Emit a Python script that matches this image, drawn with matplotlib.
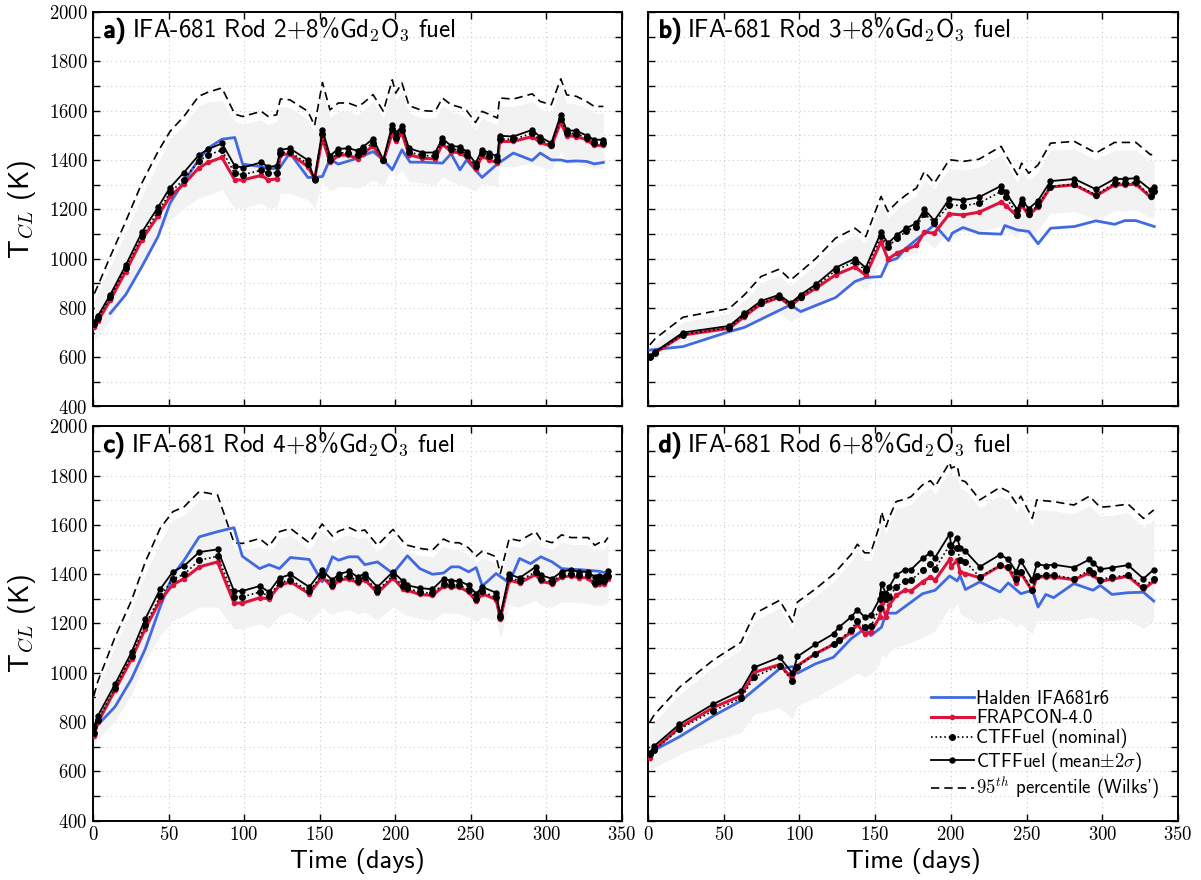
import matplotlib
matplotlib.use("Agg")
import matplotlib.pyplot as plt
from matplotlib.ticker import MultipleLocator, FuncFormatter
import matplotlib.patheffects as pe

plt.rcParams['font.family'] = ['cmss10', 'DejaVu Sans']
plt.rcParams['mathtext.fontset'] = 'cm'
plt.rcParams['axes.unicode_minus'] = False

# ---------------- Rod 2 ----------------
t_a = [0.9, 3.2, 11.4, 21.6, 32.3, 43.0, 51.0, 60.1, 69.9, 76.2, 85.3, 93.8, 99.0, 111.3, 116.0,
       121.5, 124.0, 130.2, 142.2, 146.6, 151.8, 156.8, 162.3, 168.9, 175.0, 178.7, 185.3, 192.1,
       198.0, 200.3, 204.4, 209.1, 218.0, 226.4, 231.2, 236.9, 242.8, 247.2, 253.1, 257.4, 262.2,
       267.6, 269.0, 278.1, 290.6, 295.9, 303.2, 309.5, 313.4, 319.8, 326.6, 331.6, 337.7]
mean_a = [744, 767, 853, 972, 1106, 1208, 1288, 1349, 1419, 1444, 1467, 1376, 1369, 1390, 1372,
          1376, 1441, 1447, 1399, 1319, 1522, 1417, 1445, 1447, 1438, 1453, 1486, 1400, 1543, 1509,
          1536, 1447, 1430, 1430, 1487, 1457, 1453, 1434, 1387, 1441, 1428, 1414, 1498, 1495, 1522,
          1493, 1468, 1583, 1520, 1518, 1499, 1482, 1482]
nom_a = [735, 758, 843, 960, 1090, 1190, 1268, 1320, 1395, 1420, 1440, 1345, 1340, 1358, 1345,
         1348, 1430, 1432, 1385, 1321, 1505, 1400, 1428, 1430, 1418, 1438, 1470, 1398, 1525, 1490,
         1522, 1432, 1418, 1416, 1474, 1444, 1440, 1422, 1374, 1427, 1414, 1400, 1485, 1484, 1508,
         1481, 1460, 1568, 1508, 1506, 1490, 1470, 1470]
frap_a = [724, 745, 832, 947, 1076, 1173, 1252, 1302, 1367, 1390, 1410, 1319, 1319, 1337, 1319,
          1323, 1421, 1425, 1373, 1323, 1488, 1390, 1418, 1421, 1404, 1425, 1457, 1396, 1509, 1475,
          1509, 1421, 1407, 1404, 1464, 1434, 1428, 1411, 1363, 1414, 1401, 1387, 1475, 1475, 1495,
          1471, 1455, 1553, 1498, 1495, 1482, 1459, 1459]
p95_a = [858, 890, 1008, 1150, 1306, 1434, 1516, 1576, 1658, 1675, 1692, 1586, 1576, 1597, 1576,
         1583, 1647, 1644, 1597, 1539, 1714, 1603, 1631, 1631, 1617, 1630, 1665, 1597, 1725, 1671,
         1712, 1620, 1600, 1597, 1651, 1624, 1614, 1600, 1552, 1597, 1585, 1570, 1651, 1647, 1668,
         1637, 1624, 1729, 1664, 1658, 1637, 1617, 1617]
hi_a = [830, 860, 968, 1103, 1252, 1387, 1482, 1543, 1620, 1637, 1641, 1556, 1546, 1563, 1543,
        1556, 1617, 1614, 1563, 1509, 1685, 1573, 1597, 1597, 1583, 1600, 1637, 1570, 1698, 1644,
        1678, 1590, 1570, 1570, 1620, 1597, 1583, 1570, 1522, 1570, 1555, 1543, 1620, 1617, 1637,
        1606, 1593, 1698, 1631, 1627, 1610, 1590, 1590]
lo_a = [668, 685, 751, 859, 981, 1103, 1157, 1204, 1245, 1258, 1279, 1204, 1204, 1225, 1204,
        1211, 1265, 1265, 1238, 1204, 1319, 1272, 1292, 1292, 1285, 1295, 1319, 1292, 1373, 1333,
        1360, 1312, 1306, 1299, 1333, 1312, 1299, 1290, 1272, 1306, 1298, 1292, 1373, 1373, 1387,
        1373, 1360, 1434, 1387, 1383, 1373, 1367, 1367]
th_a = [11.4, 21.6, 32.3, 43.0, 51.0, 60.1, 69.9, 76.2, 85.3, 93.8, 99.0, 111.3, 116.5, 123.4,
        130.2, 142.2, 146.6, 151.8, 156.8, 162.3, 175.0, 185.3, 192.1, 198.0, 204.4, 209.8, 218.0,
        231.2, 236.9, 242.8, 247.2, 257.4, 267.6, 278.1, 290.6, 295.9, 303.2, 309.5, 313.4, 319.8,
        326.6, 331.6, 337.7]
halden_a = [778, 853, 967, 1089, 1225, 1313, 1400, 1448, 1484, 1491, 1383, 1373, 1364, 1367,
            1428, 1329, 1329, 1333, 1403, 1383, 1407, 1434, 1400, 1360, 1441, 1391, 1391,
            1387, 1425, 1360, 1400, 1329, 1384, 1428, 1398, 1428, 1400, 1400, 1394, 1396,
            1394, 1384, 1390]

# ---------------- Rod 3 ----------------
t_b = [1.2, 4.7, 23.1, 53.8, 63.7, 74.6, 86.6, 94.2, 100.8, 111.0, 123.9, 136.7, 143.8, 153.9,
       158.4, 164.5, 170.4, 177.3, 182.5, 189.1, 199.0, 208.0, 218.6, 233.2, 236.3, 243.9, 246.7,
       251.4, 257.6, 265.8, 281.6, 295.8, 308.1, 314.9, 322.2, 331.9, 334.3]
mean_b = [605, 622, 700, 727, 778, 828, 853, 819, 853, 896, 963, 1000, 963, 1107, 1062, 1096,
          1123, 1143, 1200, 1154, 1242, 1237, 1249, 1295, 1268, 1198, 1242, 1202, 1235, 1314,
          1323, 1281, 1323, 1323, 1326, 1279, 1290]
nom_b = [600, 618, 692, 720, 770, 818, 845, 810, 845, 887, 952, 988, 952, 1092, 1048, 1082,
         1110, 1130, 1182, 1145, 1218, 1214, 1225, 1272, 1250, 1177, 1225, 1180, 1218, 1292,
         1302, 1259, 1306, 1306, 1309, 1254, 1272]
frap_b = [600, 618, 690, 717, 765, 816, 842, 808, 842, 880, 934, 967, 932, 1069, 998, 1022,
          1038, 1053, 1107, 1103, 1181, 1177, 1188, 1229, 1215, 1171, 1218, 1175, 1211, 1290,
          1299, 1254, 1299, 1299, 1302, 1249, 1268]
p95_b = [650, 675, 762, 798, 853, 927, 957, 913, 947, 1001, 1083, 1123, 1089, 1252, 1191, 1229,
         1258, 1286, 1353, 1306, 1401, 1394, 1403, 1455, 1420, 1340, 1387, 1346, 1380, 1468,
         1475, 1428, 1471, 1471, 1471, 1421, 1425]
hi_b = [635, 655, 742, 778, 830, 900, 930, 890, 925, 975, 1055, 1095, 1062, 1222, 1165, 1200,
        1230, 1255, 1320, 1280, 1365, 1360, 1370, 1420, 1390, 1310, 1355, 1318, 1350, 1440,
        1445, 1400, 1440, 1440, 1440, 1395, 1400]
lo_b = [585, 600, 663, 690, 717, 765, 778, 744, 771, 812, 859, 907, 873, 1001, 967, 995, 1008,
        1028, 1076, 1042, 1116, 1110, 1110, 1130, 1115, 1083, 1116, 1089, 1116, 1184, 1191,
        1157, 1194, 1194, 1198, 1165, 1171]
th_b = [1.2, 23.1, 53.8, 63.7, 94.0, 100.8, 123.9, 136.7, 143.8, 153.9, 158.4, 164.5, 170.4,
        182.5, 189.1, 198.5, 200.9, 208.0, 218.6, 233.2, 235.6, 243.9, 251.4, 257.6, 265.8,
        281.6, 295.8, 308.1, 314.9, 322.2, 334.3]
halden_b = [629, 643, 704, 721, 812, 785, 842, 907, 923, 927, 988, 1001, 1042, 1103, 1137,
            1073, 1103, 1126, 1103, 1099, 1134, 1116, 1110, 1060, 1123, 1130, 1153, 1139,
            1154, 1154, 1130]

# ---------------- Rod 4 ----------------
t_c = [0.5, 3.2, 14.6, 25.5, 34.6, 44.4, 52.8, 60.3, 70.3, 82.4, 93.3, 98.8, 110.2, 116.5,
       123.4, 130.6, 143.1, 151.6, 158.4, 162.5, 169.3, 175.2, 179.8, 188.2, 198.5, 204.8, 208.0,
       216.2, 224.6, 231.9, 237.1, 242.2, 248.5, 253.5, 257.6, 266.7, 269.5, 275.4, 282.2, 292.9,
       296.3, 303.8, 310.0, 316.3, 321.3, 327.5, 332.0, 335.0, 337.9, 340.7]
mean_c = [778, 825, 954, 1083, 1219, 1339, 1410, 1434, 1490, 1501, 1332, 1332, 1352, 1328, 1385,
          1399, 1348, 1416, 1376, 1400, 1412, 1389, 1403, 1348, 1410, 1373, 1355, 1344, 1339,
          1382, 1373, 1373, 1355, 1321, 1348, 1325, 1233, 1400, 1385, 1430, 1396, 1382, 1410,
          1418, 1410, 1410, 1389, 1393, 1389, 1414]
nom_c = [755, 808, 940, 1068, 1195, 1310, 1380, 1400, 1457, 1473, 1308, 1308, 1328, 1312, 1365,
         1378, 1330, 1398, 1358, 1386, 1392, 1374, 1388, 1333, 1395, 1352, 1344, 1327, 1323,
         1360, 1357, 1357, 1337, 1300, 1330, 1306, 1225, 1385, 1374, 1410, 1380, 1370, 1398,
         1402, 1395, 1395, 1365, 1371, 1371, 1392]
frap_c = [744, 798, 930, 1056, 1179, 1294, 1358, 1382, 1430, 1450, 1283, 1283, 1304, 1301, 1355,
          1369, 1321, 1389, 1348, 1376, 1382, 1365, 1378, 1324, 1385, 1342, 1335, 1318, 1314,
          1351, 1348, 1348, 1328, 1290, 1321, 1297, 1219, 1376, 1365, 1399, 1371, 1362, 1389,
          1393, 1386, 1386, 1355, 1362, 1362, 1382]
p95_c = [905, 965, 1145, 1294, 1450, 1586, 1654, 1674, 1736, 1722, 1528, 1525, 1545, 1514, 1573,
         1586, 1528, 1604, 1555, 1575, 1590, 1573, 1580, 1518, 1582, 1535, 1518, 1505, 1498,
         1543, 1528, 1528, 1507, 1473, 1494, 1471, 1403, 1545, 1536, 1573, 1541, 1528, 1560,
         1549, 1549, 1549, 1518, 1528, 1525, 1549]
hi_c = [880, 935, 1110, 1255, 1400, 1530, 1620, 1640, 1700, 1700, 1500, 1495, 1515, 1487, 1545,
        1558, 1500, 1575, 1527, 1547, 1560, 1545, 1552, 1490, 1553, 1507, 1490, 1477, 1470,
        1515, 1500, 1500, 1480, 1447, 1467, 1445, 1380, 1517, 1508, 1545, 1513, 1500, 1532,
        1521, 1521, 1521, 1490, 1500, 1497, 1521]
lo_c = [703, 730, 805, 914, 1049, 1151, 1212, 1233, 1267, 1267, 1179, 1179, 1199, 1183, 1233,
        1246, 1206, 1264, 1233, 1250, 1256, 1240, 1246, 1215, 1267, 1240, 1233, 1219, 1212,
        1246, 1240, 1240, 1226, 1206, 1226, 1212, 1138, 1274, 1267, 1294, 1274, 1267, 1287,
        1287, 1283, 1283, 1274, 1274, 1277, 1287]
th_c = [0.5, 14.6, 25.5, 34.6, 44.4, 52.8, 60.3, 70.3, 82.4, 93.3, 98.8, 110.2, 116.5, 123.4,
        130.6, 143.1, 151.6, 158.4, 162.5, 169.3, 175.2, 179.8, 188.2, 198.5, 208.0, 216.2,
        224.6, 231.9, 237.1, 242.2, 248.5, 253.5, 257.6, 266.7, 275.4, 282.2, 289.5, 296.3,
        303.8, 310.0, 316.3, 321.3, 327.5, 335.0, 340.7]
halden_c = [771, 862, 975, 1097, 1267, 1396, 1457, 1552, 1573, 1589, 1473, 1423, 1439, 1423,
            1468, 1460, 1369, 1471, 1457, 1471, 1471, 1439, 1450, 1403, 1475, 1423, 1400, 1405,
            1430, 1430, 1410, 1427, 1352, 1403, 1365, 1464, 1443, 1471, 1450, 1423, 1420, 1419,
            1416, 1412, 1403]

# ---------------- Rod 6 ----------------
t_d = [1.2, 4.2, 20.8, 43.2, 61.4, 70.3, 86.9, 95.4, 98.7, 110.5, 122.5, 126.1, 134.1, 138.3,
       143.1, 147.1, 153.0, 154.2, 157.2, 159.3, 163.8, 169.7, 173.7, 181.3, 186.5, 189.6, 199.2,
       200.2, 204.2, 206.1, 209.6, 219.1, 232.5, 237.9, 243.2, 246.2, 253.8, 256.8, 262.7, 267.9,
       281.2, 291.5, 293.9, 298.6, 306.4, 317.0, 327.2, 334.0]
mean_d = [676, 703, 791, 873, 927, 1022, 1063, 998, 1066, 1115, 1158, 1185, 1226, 1256, 1226,
          1233, 1301, 1362, 1321, 1348, 1396, 1419, 1419, 1464, 1488, 1468, 1563, 1514, 1549,
          1505, 1494, 1430, 1480, 1460, 1410, 1454, 1376, 1441, 1435, 1439, 1427, 1460, 1446,
          1420, 1427, 1437, 1382, 1419]
nom_d = [669, 687, 771, 846, 896, 984, 1029, 968, 1025, 1077, 1117, 1131, 1174, 1212, 1185,
         1188, 1263, 1321, 1300, 1308, 1348, 1373, 1376, 1416, 1443, 1423, 1518, 1491, 1505,
         1457, 1450, 1389, 1437, 1430, 1382, 1410, 1335, 1393, 1395, 1396, 1382, 1416, 1407,
         1378, 1389, 1396, 1348, 1380]
frap_d = [655, 689, 778, 859, 907, 1002, 1033, 975, 1029, 1077, 1115, 1128, 1165, 1196, 1158,
          1165, 1226, 1283, 1226, 1274, 1314, 1335, 1332, 1369, 1389, 1376, 1460, 1430, 1457,
          1410, 1403, 1386, 1434, 1427, 1365, 1405, 1332, 1389, 1389, 1389, 1378, 1405, 1396,
          1371, 1380, 1392, 1339, 1371]
p95_d = [800, 830, 941, 1052, 1124, 1240, 1294, 1206, 1287, 1340, 1400, 1425, 1480, 1522, 1487,
         1487, 1600, 1654, 1593, 1630, 1695, 1705, 1715, 1763, 1780, 1756, 1854, 1831, 1841,
         1783, 1776, 1702, 1753, 1736, 1688, 1717, 1627, 1702, 1698, 1695, 1681, 1717, 1702,
         1672, 1676, 1685, 1627, 1661]
hi_d = [770, 800, 911, 1022, 1094, 1210, 1264, 1176, 1257, 1310, 1370, 1395, 1450, 1492, 1457,
        1457, 1570, 1624, 1563, 1600, 1665, 1675, 1685, 1733, 1750, 1726, 1817, 1800, 1805,
        1750, 1740, 1670, 1718, 1700, 1655, 1683, 1595, 1665, 1660, 1657, 1645, 1680, 1665,
        1637, 1640, 1650, 1590, 1623]
lo_d = [601, 615, 669, 723, 757, 832, 859, 812, 866, 900, 941, 955, 982, 1002, 982, 995, 1036,
        1077, 1060, 1085, 1104, 1115, 1124, 1145, 1160, 1172, 1267, 1250, 1280, 1240, 1226,
        1199, 1226, 1215, 1185, 1200, 1158, 1212, 1212, 1212, 1212, 1226, 1226, 1210, 1212,
        1215, 1179, 1212]
th_d = [1.2, 20.8, 43.2, 61.4, 86.9, 95.4, 98.7, 110.5, 122.5, 134.1, 143.1, 147.1, 154.2,
        157.2, 163.8, 181.3, 189.6, 199.2, 204.2, 206.1, 209.6, 219.1, 232.5, 237.9, 246.2,
        253.8, 257.6, 262.7, 267.9, 281.2, 293.9, 298.6, 306.4, 317.0, 327.2, 334.0]
halden_d = [676, 740, 825, 886, 1016, 1025, 998, 1036, 1063, 1138, 1179, 1151, 1185, 1242,
            1242, 1321, 1335, 1393, 1373, 1395, 1338, 1369, 1328, 1365, 1321, 1335, 1267,
            1318, 1305, 1362, 1335, 1355, 1318, 1325, 1327, 1291]

panel_tags = ['a)', 'b)', 'c)', 'd)']
rod_numbers = [2, 3, 4, 6]

series = [
    (t_a, mean_a, nom_a, frap_a, p95_a, hi_a, lo_a, th_a, halden_a),
    (t_b, mean_b, nom_b, frap_b, p95_b, hi_b, lo_b, th_b, halden_b),
    (t_c, mean_c, nom_c, frap_c, p95_c, hi_c, lo_c, th_c, halden_c),
    (t_d, mean_d, nom_d, frap_d, p95_d, hi_d, lo_d, th_d, halden_d),
]

W, H = 1201, 880
fig = plt.figure(figsize=(W / 100, H / 100), dpi=100)

# axes boxes in pixels: (left, right, top, bottom)
boxes = [(93, 622, 12, 406.5), (648, 1178, 12, 406.5),
         (93, 622, 426.5, 820.5), (648, 1178, 426.5, 820.5)]

BLUE = '#4169e1'
RED = '#dc143c'

axes = []
for i, (l, r, tp, bt) in enumerate(boxes):
    ax = fig.add_axes([l / W, 1 - bt / H, (r - l) / W, (bt - tp) / H])
    axes.append(ax)
    t, mean, nom, frap, p95, hi, lo, th, hal = series[i]

    ax.fill_between(t, lo, hi, color='#f2f2f2', lw=0, zorder=1)
    ax.plot(th, hal, color=BLUE, lw=2.0, zorder=3, label='Halden IFA681r6')
    ax.plot(t, frap, color=RED, lw=2.2, marker='o', ms=3, zorder=4, label='FRAPCON-4.0')
    ax.plot(t, nom, color='black', lw=1.2, ls=':', marker='o', ms=4, zorder=5,
            label='CTFFuel (nominal)')
    ax.plot(t, mean, color='black', lw=1.3, marker='o', ms=3.6, zorder=6,
            label=r'CTFFuel (mean$\pm2\sigma$)')
    ax.plot(t, p95, color='black', lw=1.2, ls=(0, (5, 3)), zorder=2,
            label=r"$95^{th}$ percentile (Wilks')")

    ax.set_xlim(0, 350)
    ax.set_ylim(400, 2000)
    ax.xaxis.set_major_locator(MultipleLocator(50))
    ax.yaxis.set_major_locator(MultipleLocator(100))
    ax.grid(True, ls=(0, (1, 3)), color='#cccccc', lw=0.8, zorder=0)
    ax.set_axisbelow(True)
    ax.tick_params(direction='in', top=True, right=True, length=5, width=1.0,
                   labelsize=13.5, pad=4)
    for s in ax.spines.values():
        s.set_linewidth(1.4)

    if i in (0, 2):
        ax.yaxis.set_major_formatter(FuncFormatter(
            lambda v, p: r'$%d$' % v if int(round(v)) % 200 == 0 else ''))
        ax.set_ylabel(r'T$_{CL}$ (K)', fontsize=20, labelpad=8)
    else:
        ax.set_yticklabels([])
    if i in (2, 3):
        ax.xaxis.set_major_formatter(FuncFormatter(lambda v, p: r'$%d$' % v))
        ax.set_xlabel('Time (days)', fontsize=19, labelpad=3)
    else:
        ax.set_xticklabels([])

fig.canvas.draw()
renderer = fig.canvas.get_renderer()
for i, ax in enumerate(axes):
    tag = ax.text(0.0204, 0.936, panel_tags[i], transform=ax.transAxes, fontsize=18,
                  va='baseline', ha='left', zorder=10,
                  path_effects=[pe.withStroke(linewidth=1.1, foreground='black')])
    bb = tag.get_window_extent(renderer)
    x0 = ax.transAxes.inverted().transform((bb.x1 + 6, 0))[0]
    ax.text(x0, 0.936, r'IFA-681 Rod %d+8%%Gd$_2$O$_3$ fuel' % rod_numbers[i],
            transform=ax.transAxes, fontsize=18, va='baseline', ha='left', zorder=10)

axes[3].legend(loc='lower right', frameon=False, fontsize=13.5, handlelength=2.3,
               handletextpad=0.1, labelspacing=0.08, borderaxespad=0.6)

fig.savefig('out.png', dpi=100)
